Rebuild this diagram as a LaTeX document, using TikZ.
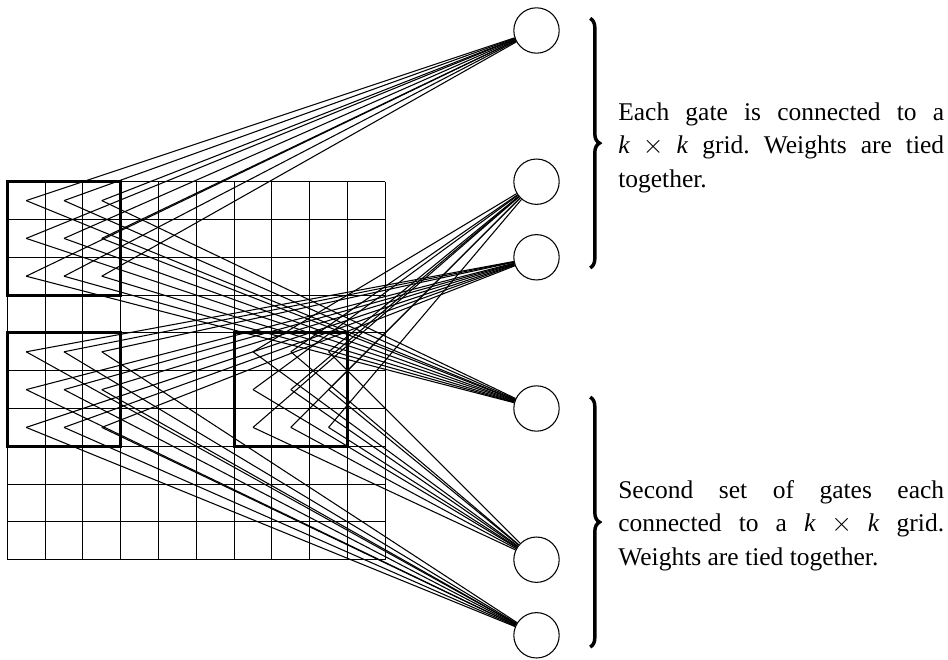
\documentclass[tikz,border=0pt]{standalone}
\usepackage{fontspec}
\setmainfont{Liberation Serif}
\usetikzlibrary{decorations.pathreplacing}
\newlength{\notew}\setlength{\notew}{4.31cm}
\frenchspacing

\begin{document}
\begin{tikzpicture}[x=0.5cm,y=0.5cm,thin]
  \tikzstyle{gate}=[draw, circle, minimum size=0.6cm, inner sep=0pt]
  \tikzstyle{window}=[line width=1.2pt]
  \tikzstyle{gatenote}=[anchor=west, inner sep=0pt, align=left, font=\fontsize{9.6}{12.55}\selectfont]
  \tikzstyle{gatebrace}=[decorate, decoration={brace, amplitude=3.5pt}, line width=1.3pt]

  \useasboundingbox (-0.193,4.807) rectangle (24.886,-12.653);

  % input grid
  \foreach \k in {0,...,10} {
    \draw (\k,0) -- (\k,-10);
    \draw (0,-\k) -- (10,-\k);
  }
  \foreach \i in {0,...,9} \foreach \j in {0,...,9}
    \coordinate (c-\i-\j) at (\i+0.5,-\j-0.5);

  % k x k windows
  \draw[window] (0,0) rectangle (3,-3);
  \draw[window] (0,-4) rectangle (3,-7);
  \draw[window] (6,-4) rectangle (9,-7);

  % gates
  \node[gate] (g1) at (14,4) {};
  \node[gate] (g2) at (14,0) {};
  \node[gate] (g3) at (14,-2) {};
  \node[gate] (g4) at (14,-6) {};
  \node[gate] (g5) at (14,-10) {};
  \node[gate] (g6) at (14,-12) {};

  % tied weights
  \foreach \i in {0,1,2} \foreach \j in {0,1,2} {
    \pgfmathtruncatemacro\ii{\i+6}
    \pgfmathtruncatemacro\jj{\j+4}
    \draw (c-\i-\j) -- (g1);
    \draw (c-\i-\j) -- (g4);
    \draw (c-\i-\jj) -- (g3);
    \draw (c-\i-\jj) -- (g6);
    \draw (c-\ii-\jj) -- (g2);
    \draw (c-\ii-\jj) -- (g5);
  }

  % braces and notes
  \coordinate (top1) at (15.42,4.32);
  \coordinate (bot1) at (15.42,-2.28);
  \coordinate (top2) at (15.42,-5.70);
  \coordinate (bot2) at (15.42,-12.31);
  \draw[gatebrace] (top1) -- (bot1);
  \draw[gatebrace] (top2) -- (bot2);

  \node[gatenote] (note1) at (16.15,0.9) {\makebox[\notew][s]{Each gate is connected to a}\\
    \makebox[\notew][s]{\textit{k}${}\times{}$\textit{k} grid. Weights are tied}\\
    together.};
  \node[gatenote] (note2) at (16.15,-9.1) {\makebox[\notew][s]{Second set of gates each}\\
    \makebox[\notew][s]{connected to a \textit{k}${}\times{}$\textit{k} grid.}\\
    Weights are tied together.};
\end{tikzpicture}
\end{document}
